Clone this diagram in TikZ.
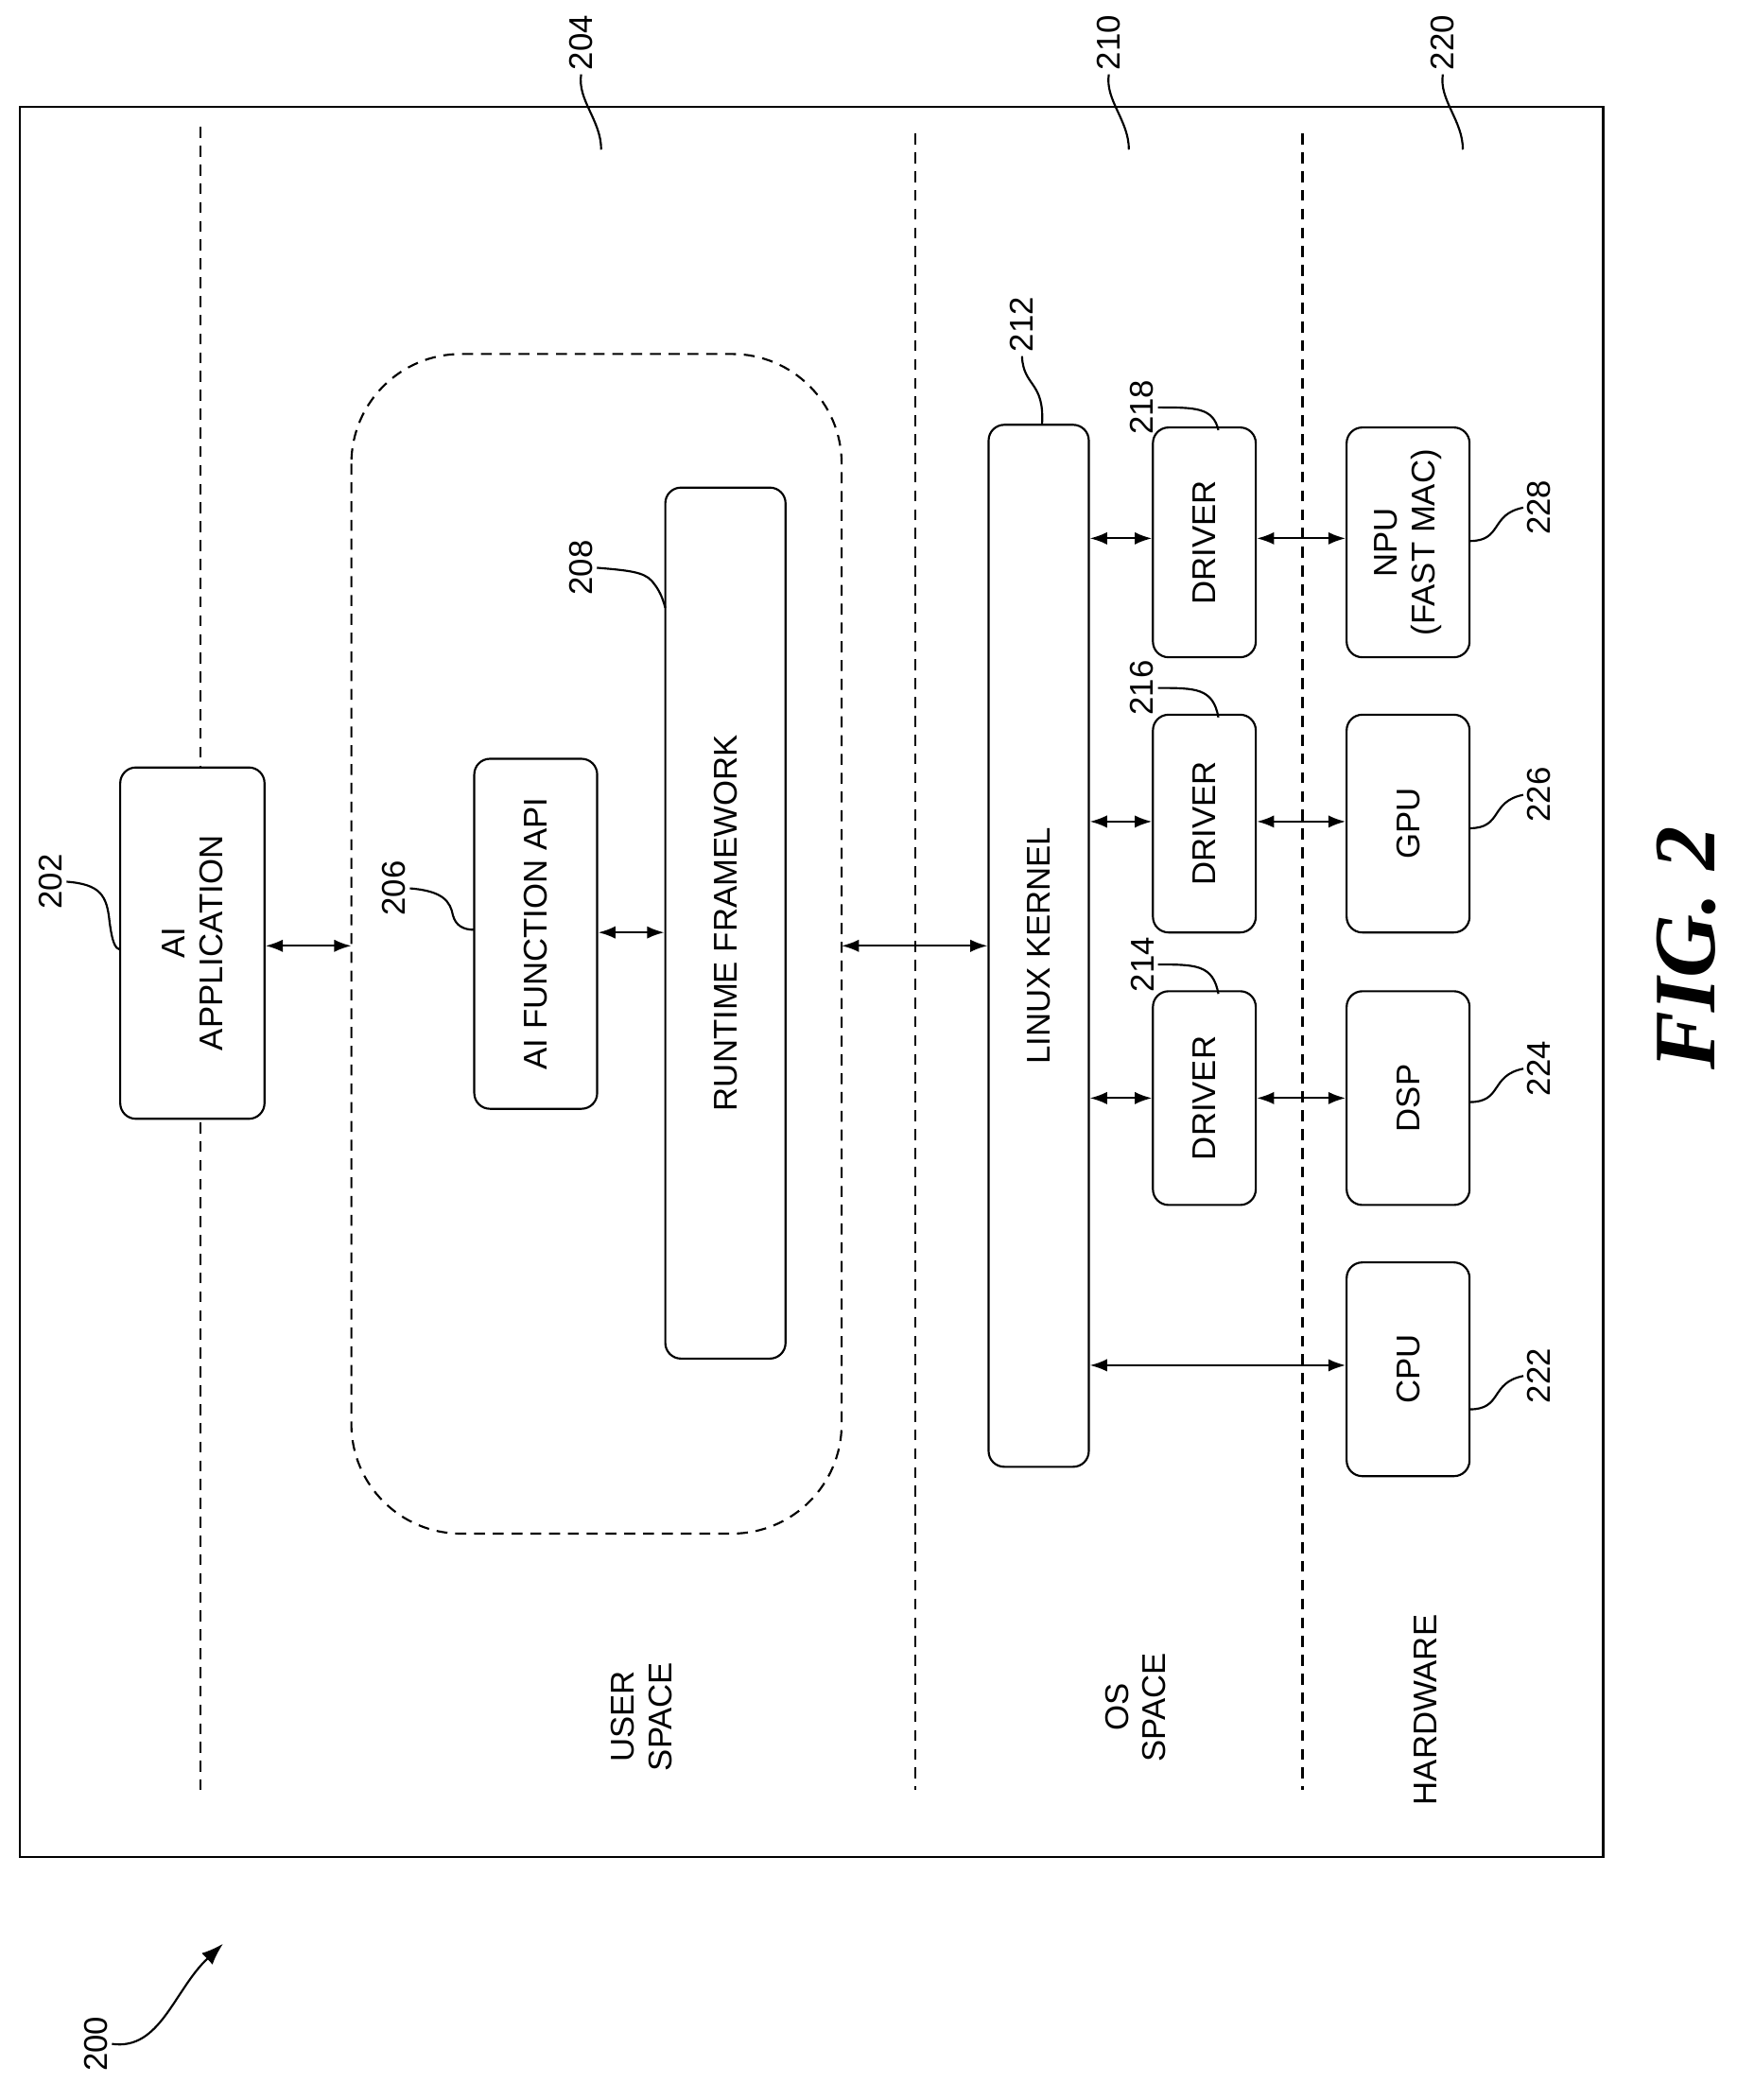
\documentclass[tikz,border=0pt]{standalone}
\usepackage{fontspec}
\usetikzlibrary{arrows.meta}
\setmainfont{Liberation Sans}
\newfontfamily\figfont{Liberation Serif}
\begin{document}
\begin{tikzpicture}[x=0.03cm,y=-0.03cm,line width=1.3pt,
 box/.style={draw,fill=white,rounded corners=10,inner sep=0},
 txt/.style={rotate=90,font=\fontsize{21}{24}\selectfont,align=center},
 lbl/.style={rotate=90,font=\fontsize{21}{24}\selectfont,inner sep=2pt},
 dl/.style={dashed,dash pattern=on 7pt off 5pt},
 arr/.style={{Latex[length=11pt,width=8pt]}-{Latex[length=11pt,width=8pt]}}]
\useasboundingbox (0,0) rectangle (1300,1572);
\draw (15,80) rectangle (1200,1390);
\draw[dl] (150,95)--(150,1340);
\draw[dl] (685,100)--(685,1340);
\draw[dl] (975,100)--(975,1340);
% region labels
\node[lbl] (l204) at (435,32) {204};
\node[lbl] (l210) at (830,32) {210};
\node[lbl] (l220) at (1080,32) {220};
\foreach \l/\x in {l204/435,l210/830,l220/1080}
 \draw (\l.west) .. controls (\x-3,75) and (\x+15,90) .. (\x+15,112);
\node[txt] (us) at (480,1285) {USER\\SPACE};
\node[txt] (os) at (850,1278) {OS\\SPACE};
\node[txt] (hw) at (1067,1280) {HARDWARE};
% dashed region
\draw[dl,rounded corners=70] (263,265) rectangle (630,1148);
\coordinate (rgl) at (263,708);
\coordinate (rgr) at (630,708);
% boxes
\node[box,minimum width=108*0.03cm,minimum height=263*0.03cm] (app) at (144,706) {};
\node[txt] at (app) {AI\\APPLICATION};
\node[box,minimum width=92*0.03cm,minimum height=262*0.03cm] (api) at (401,699) {};
\node[txt] at (api) {AI FUNCTION API};
\node[box,minimum width=90*0.03cm,minimum height=652*0.03cm] (rt) at (543,691) {};
\node[txt] at (rt) {RUNTIME FRAMEWORK};
\node[box,minimum width=75*0.03cm,minimum height=780*0.03cm] (lk) at (777.5,708) {};
\node[txt] at (lk) {LINUX KERNEL};
\node[box,minimum width=77*0.03cm,minimum height=172*0.03cm] (d218) at (901.5,406) {};
\node[txt] at (d218) {DRIVER};
\node[box,minimum width=77*0.03cm,minimum height=163*0.03cm] (d216) at (901.5,616.5) {};
\node[txt] at (d216) {DRIVER};
\node[box,minimum width=77*0.03cm,minimum height=160*0.03cm] (d214) at (901.5,822) {};
\node[txt] at (d214) {DRIVER};
\node[box,minimum width=92*0.03cm,minimum height=172*0.03cm] (npu) at (1054,406) {};
\node[txt] at (npu) {NPU\\(FAST MAC)};
\node[box,minimum width=92*0.03cm,minimum height=163*0.03cm] (gpu) at (1054,616.5) {};
\node[txt] at (gpu) {GPU};
\node[box,minimum width=92*0.03cm,minimum height=160*0.03cm] (dsp) at (1054,822) {};
\node[txt] at (dsp) {DSP};
\node[box,minimum width=92*0.03cm,minimum height=160*0.03cm] (cpu) at (1054,1025) {};
\node[txt] at (cpu) {CPU};
% arrows
\draw[arr] (app.east|-0,708) -- (rgl);
\draw[arr] (api.east|-0,698) -- (rt.west|-0,698);
\draw[arr] (rgr) -- (lk.west|-0,708);
\foreach \d/\h/\y in {d218/npu/403,d216/gpu/615,d214/dsp/822}{
 \draw[arr] (lk.east|-0,\y) -- (\d.west|-0,\y);
 \draw[arr] (\d.east|-0,\y) -- (\h.west|-0,\y);}
\draw[arr] (lk.east|-0,1022) -- (cpu.west|-0,1022);
% reference labels
\node[lbl] (n202) at (38,660) {202};
\draw (n202.south) .. controls (75,662) and (80,670) .. (82,690) .. controls (84,705) and (86,710) .. (90,711);
\node[lbl] (n206) at (295,665) {206};
\draw (n206.south) .. controls (332,667) and (337,675) .. (339,685) .. controls (341,693) and (347,696) .. (355,696);
\node[lbl] (n208) at (435,425) {208};
\draw (n208.south) .. controls (470,427) and (482,428) .. (488,435) .. controls (494,442) and (496,448) .. (498,455);
\node[lbl] (n212) at (765,243) {212};
\draw (n212.west) .. controls (766,290) and (782,285) .. (780,318);
\node[lbl] (n218) at (855,305) {218};
\draw (n218.south) .. controls (895,305) and (908,305) .. (912,322);
\node[lbl] (n216) at (855,515) {216};
\draw (n216.south) .. controls (895,515) and (908,515) .. (912,537);
\node[lbl] (n214) at (855,722) {214};
\draw (n214.south) .. controls (895,722) and (908,722) .. (912,744);
\foreach \n/\y in {228/380,226/595,224/800,222/1030}{
 \node[lbl] (n\n) at (1152,\y) {\n};
 \draw (1100,\y+25) .. controls (1125,\y+25) and (1115,\y+5) .. (n\n.north);}
\node[rotate=90,font=\figfont\bfseries\itshape\fontsize{56}{60}\selectfont] (fig) at (1262,710) {FIG. 2};
\node[lbl] (n200) at (72,1530) {200};
\coordinate (a200) at (167,1455);
\draw[-{Latex[length=14pt,width=10pt]}] (n200.south) .. controls (120,1535) and (130,1490) .. (a200);
\end{tikzpicture}
\end{document}
